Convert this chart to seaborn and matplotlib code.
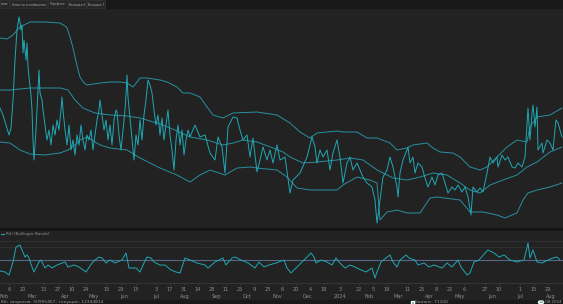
import matplotlib
matplotlib.use("Agg")
import matplotlib.pyplot as plt
import matplotlib.patches as mpatches
import matplotlib.transforms as mtransforms
import seaborn as sns
import pandas as pd

# ---------------- data ----------------
BASE = pd.Timestamp("2023-01-28")

price_day = [0, 3, 6, 9, 11, 13, 15, 17, 19, 20, 21, 22, 23, 24, 26, 27, 28, 29, 31, 32, 33, 34, 36, 38, 39, 40,
             42, 43, 45, 47, 49, 51, 53, 55, 57, 59, 61, 62, 63, 65, 67, 69, 71, 73, 75, 77, 79, 81, 83, 85, 87,
             89, 91, 93, 95, 97, 99, 100, 102, 104, 106, 108, 110, 112, 114, 116, 117, 119, 121, 123, 125, 126,
             127, 128, 130, 132, 134, 136, 138, 140, 142, 144, 146, 148, 150, 152, 154, 156, 158, 160, 162, 164,
             166, 168, 170, 172, 174, 176, 178, 180, 182, 184, 186, 188, 190, 195, 200, 205, 210, 215, 218, 222,
             225, 228, 233, 237, 240, 243, 247, 250, 253, 257, 260, 263, 267, 270, 273, 277, 280, 285, 290, 293,
             300, 307, 312, 315, 317, 320, 323, 327, 330, 333, 337, 340, 343, 347, 350, 353, 357, 363, 367, 372,
             375, 377, 383, 387, 390, 393, 397, 398, 400, 403, 407, 408, 410, 413, 415, 418, 422, 425, 428, 432,
             435, 438, 442, 445, 448, 452, 455, 458, 462, 465, 468, 471, 473, 477, 480, 483, 487, 490, 493, 497,
             498, 502, 505, 508, 512, 515, 518, 522, 525, 528, 530, 532, 533, 535, 537, 538, 542, 543, 547, 550,
             553, 556, 558, 562]
price_val = [132, 125, 115, 105, 112, 140, 180, 210, 223, 218, 210, 215, 187, 200, 180, 197, 173, 163, 145, 130,
             100, 80, 110, 150, 170, 147, 140, 130, 115, 100, 110, 95, 115, 105, 120, 110, 130, 143, 130, 110, 95,
             115, 90, 100, 85, 105, 95, 115, 100, 90, 105, 100, 110, 90, 105, 120, 130, 140, 125, 110, 120, 100,
             115, 95, 120, 130, 128, 105, 90, 110, 130, 145, 165, 143, 122, 100, 80, 105, 95, 120, 100, 125, 140,
             160, 155, 147, 130, 115, 125, 105, 122, 100, 115, 130, 105, 90, 70, 100, 115, 95, 110, 85, 100, 110,
             103, 115, 103, 105, 87, 80, 103, 93, 67, 113, 123, 122, 110, 100, 105, 83, 102, 68, 80, 93, 80, 90,
             77, 95, 80, 83, 47, 60, 67, 83, 103, 93, 77, 90, 83, 90, 70, 87, 100, 83, 57, 77, 83, 70, 77, 63, 57,
             53, 40, 17, 63, 70, 83, 73, 53, 43, 67, 80, 90, 93, 77, 83, 67, 77, 73, 62, 53, 63, 55, 65, 67, 57,
             47, 53, 50, 55, 48, 53, 43, 25, 53, 48, 52, 48, 67, 83, 77, 83, 73, 85, 80, 83, 73, 72, 77, 73, 83,
             132, 100, 127, 135, 113, 133, 90, 97, 87, 100, 97, 90, 120, 117, 103]

upper_day = [0, 7, 13, 20, 30, 45, 60, 65, 67, 70, 73, 75, 78, 80, 84, 87, 100, 110, 120, 127, 133, 137, 140, 147,
             160, 167, 177, 183, 190, 200, 207, 213, 223, 233, 257, 277, 290, 300, 310, 317, 337, 343, 357, 367,
             377, 390, 397, 407, 413, 427, 433, 440, 453, 460, 470, 480, 487, 497, 507, 517, 527, 530, 537, 550, 562]
upper_val = [202, 201, 205, 213, 218, 218, 217, 214, 212, 203, 192, 183, 170, 163, 157, 155, 157, 158, 158, 157,
             153, 158, 162, 162, 160, 158, 153, 147, 147, 143, 133, 125, 122, 127, 128, 125, 117, 108, 102, 107,
             109, 108, 108, 102, 102, 97, 90, 92, 95, 97, 92, 88, 87, 83, 73, 70, 73, 83, 93, 100, 98, 113, 123,
             125, 132]

mid_day = [0, 10, 30, 60, 68, 75, 83, 95, 110, 127, 140, 160, 175, 190, 207, 223, 233, 243, 257, 273, 283, 290,
           303, 317, 337, 350, 363, 377, 393, 407, 420, 433, 447, 460, 470, 480, 490, 503, 517, 527, 537, 550, 562]
mid_val = [150, 150, 152, 152, 150, 140, 132, 127, 125, 124, 122, 116, 110, 103, 100, 95, 97, 100, 98, 92, 88,
           83, 77, 78, 80, 82, 80, 70, 62, 60, 63, 67, 65, 57, 50, 47, 55, 60, 65, 73, 78, 88, 93]

lower_day = [0, 10, 20, 30, 45, 60, 68, 75, 80, 87, 100, 110, 127, 140, 160, 177, 190, 200, 210, 225, 237, 250,
             257, 277, 287, 297, 310, 337, 343, 357, 370, 377, 380, 387, 397, 407, 420, 430, 437, 460, 470, 483,
             497, 505, 517, 523, 528, 537, 550, 562]
lower_val = [98, 97, 90, 86, 85, 87, 90, 95, 100, 103, 95, 92, 90, 82, 72, 65, 58, 65, 70, 65, 72, 73, 72, 70,
             63, 52, 50, 50, 55, 63, 60, 57, 20, 28, 30, 27, 27, 42, 43, 40, 28, 28, 25, 22, 27, 40, 47, 50, 53, 57]

rvi_day = [0, 5, 9, 13, 16, 20, 22, 25, 27, 29, 32, 34, 36, 39, 41, 45, 48, 52, 57, 65, 68, 74, 79, 86, 92, 95,
           99, 102, 106, 110, 115, 122, 126, 129, 136, 140, 144, 147, 151, 154, 160, 165, 171, 176, 180, 185, 190,
           197, 205, 208, 215, 223, 226, 232, 235, 241, 248, 251, 255, 259, 264, 269, 276, 284, 287, 291, 296,
           302, 307, 311, 314, 316, 321, 327, 332, 336, 339, 345, 350, 355, 361, 366, 372, 375, 377, 381, 386,
           390, 393, 397, 400, 406, 409, 415, 418, 424, 429, 434, 442, 447, 452, 458, 461, 467, 470, 474, 479,
           485, 488, 494, 499, 504, 510, 517, 524, 528, 530, 533, 537, 542, 548, 553, 557, 560]
rvi_val = [39, 38, 35, 48, 63, 65, 60, 53, 55, 52, 43, 38, 42, 48, 50, 42, 45, 42, 45, 48, 43, 45, 43, 38, 47,
           50, 53, 52, 47, 50, 47, 50, 57, 42, 42, 38, 47, 53, 52, 48, 45, 45, 40, 38, 37, 52, 50, 47, 45, 42, 48,
           52, 45, 52, 53, 50, 47, 45, 42, 48, 43, 45, 47, 50, 42, 37, 42, 48, 53, 57, 53, 47, 50, 48, 45, 52,
           48, 42, 45, 43, 40, 38, 42, 32, 38, 48, 52, 55, 48, 43, 50, 55, 52, 50, 45, 47, 43, 45, 42, 47, 43,
           50, 43, 35, 37, 48, 50, 57, 60, 57, 53, 55, 50, 48, 50, 67, 52, 60, 48, 47, 50, 52, 53, 50]

rvi_ref = 50
rvi_grid = [69, 63]

tick_dates = ["2023-02-06", "2023-02-20", "2023-03-13", "2023-03-27", "2023-04-10", "2023-04-24",
              "2023-05-15", "2023-05-29", "2023-06-13", "2023-07-03", "2023-07-17", "2023-07-31",
              "2023-08-14", "2023-08-28", "2023-09-11", "2023-09-25", "2023-10-09", "2023-10-23",
              "2023-11-06", "2023-11-20", "2023-12-04", "2023-12-18", "2024-01-03", "2024-01-22",
              "2024-02-05", "2024-02-19", "2024-03-11", "2024-03-25", "2024-04-08", "2024-04-22",
              "2024-05-06", "2024-05-27", "2024-06-10", "2024-07-01", "2024-07-15", "2024-07-29"]
tick_labels = ["6", "20", "13", "27", "10", "24", "15", "29", "13", "3", "17", "31", "14", "28", "11", "25",
               "9", "23", "6", "20", "4", "18", "3", "22", "5", "19", "11", "25", "8", "22", "6", "27", "10",
               "1", "15", "29"]
month_dates = ["2023-02-01", "2023-03-01", "2023-04-03", "2023-05-02", "2023-06-01", "2023-07-03",
               "2023-08-01", "2023-09-01", "2023-10-02", "2023-11-01", "2023-12-01", "2024-01-03",
               "2024-02-01", "2024-03-01", "2024-04-01", "2024-05-02", "2024-06-03", "2024-07-01", "2024-08-01"]
month_labels = ["Feb", "Mar", "Apr", "May", "Jun", "Jul", "Aug", "Sep", "Oct", "Nov", "Dec", "2024",
                "Feb", "Mar", "Apr", "May", "Jun", "Jul", "Aug"]

tabs = ["ение", "Новости и сообщения", "Портфель", "Вкладка 6", "Вкладка 7"]
status_left = "Кб: запросов: 50995467; текущих: 12344814"
status_mid = "Баланс: 71100"
status_right = "08.08.2024"
indicator_title = "RVI (Bollinger Bands)"

# ---------------- styling ----------------
sns.set_theme(style="dark")
plt.rcParams["font.family"] = ["DejaVu Sans"]
BG = "#222222"
PRICE_C = "#20a8b3"
BAND_C = "#2890a0"
TXT = "#8e8e8e"

W, H = 563.0, 304.0
fig = plt.figure(figsize=(5.63, 3.04), dpi=100, facecolor=BG)


def fy(px):
    return 1 - px / H


def fx(px):
    return px / W


ax = fig.add_axes([0, fy(228), 1, (228 - 11) / H])
ax2 = fig.add_axes([0, fy(283), 1, (283 - 238) / H])

for a in (ax, ax2):
    a.set_facecolor(BG)
    for s in a.spines.values():
        s.set_visible(False)
    a.grid(False)
    a.set_xlim(0, 563)

# main panel
df_p = pd.DataFrame({"day": price_day, "v": price_val})
df_u = pd.DataFrame({"day": upper_day, "v": upper_val})
df_m = pd.DataFrame({"day": mid_day, "v": mid_val})
df_l = pd.DataFrame({"day": lower_day, "v": lower_val})
for d in (df_u, df_m, df_l):
    sns.lineplot(data=d, x="day", y="v", ax=ax, color=BAND_C, linewidth=0.7, estimator=None)
sns.lineplot(data=df_p, x="day", y="v", ax=ax, color=PRICE_C, linewidth=0.7, estimator=None)
ax.set_ylim(12, 229)
ax.set_xticks([])
ax.set_yticks([])
ax.set_xlabel("")
ax.set_ylabel("")

# RVI panel
df_r = pd.DataFrame({"day": rvi_day, "v": rvi_val})
for g in rvi_grid:
    ax2.axhline(g, color="#303030", linewidth=0.7)
ax2.axhline(rvi_ref, color="#56678a", linewidth=0.8)
sns.lineplot(data=df_r, x="day", y="v", ax=ax2, color=PRICE_C, linewidth=0.7, estimator=None)
ax2.set_ylim(27, 72)
ax2.set_yticks([])
ax2.set_xlabel("")
ax2.set_ylabel("")

tick_pos = [(pd.Timestamp(t) - BASE).days for t in tick_dates]
ax2.set_xticks(tick_pos)
ax2.set_xticklabels(tick_labels, fontsize=3.6, color=TXT)
ax2.tick_params(axis="x", length=1.5, width=0.4, color="#4a4a4a", pad=1.5, bottom=True)

trans = mtransforms.blended_transform_factory(ax2.transData, fig.transFigure)
for d, lab in zip(month_dates, month_labels):
    ax2.text((pd.Timestamp(d) - BASE).days, fy(296.5), lab, transform=trans, fontsize=3.6,
             color=TXT, ha="center", va="center", clip_on=False)

# figure-level chrome
def rect(x0, y0, x1, y1, color, ec="none", lw=0):
    fig.add_artist(mpatches.Rectangle((fx(x0), fy(y1)), fx(x1) - fx(x0), (y1 - y0) / H,
                                      transform=fig.transFigure, facecolor=color, edgecolor=ec,
                                      linewidth=lw, zorder=5))

rect(0, 0, 563, 9, "#181818")
tab_spans = [(0, 9), (10, 47), (48, 67), (68, 86), (87, 105)]
for (x0, x1), t in zip(tab_spans, tabs):
    rect(x0, 0.5, x1, 8, "#262626", ec="#3a3a3a", lw=0.4)
    fig.text(fx((x0 + x1) / 2), fy(4.3), t, fontsize=2.2, color="#a8a8a8", ha="center",
             va="center", zorder=6)

rect(0, 228, 563, 231, "#141414")
fig.add_artist(plt.Line2D([fx(1), fx(4)], [fy(234), fy(234)], transform=fig.transFigure,
                          color=PRICE_C, linewidth=0.8, zorder=6))
fig.text(fx(6), fy(234), indicator_title, fontsize=3.0, color=TXT, ha="left", va="center", zorder=6)
fig.add_artist(plt.Line2D([0, 1], [fy(282.5), fy(282.5)], transform=fig.transFigure,
                          color="#353535", linewidth=0.8, zorder=6))

rect(0, 299.5, 563, 304, "#1a1a1a")
fig.text(fx(1), fy(302.3), status_left, fontsize=3.2, color="#a0a0a0", ha="left", va="center", zorder=7)
fig.add_artist(mpatches.Rectangle((fx(411), fy(303.8)), fx(3), 3 / H, transform=fig.transFigure,
                                  facecolor="#3fae4a", zorder=7))
fig.text(fx(415), fy(302.3), status_mid, fontsize=3.2, color="#a0a0a0", ha="left", va="center", zorder=7)
fig.add_artist(mpatches.Circle((fx(541), fy(302.3)), 0.0045, transform=fig.transFigure,
                               facecolor="#3fc04f", zorder=7))
fig.text(fx(562), fy(302.3), status_right, fontsize=2.8, color="#a0a0a0", ha="right", va="center", zorder=7)

fig.savefig("out.png", dpi=100, facecolor=BG)
